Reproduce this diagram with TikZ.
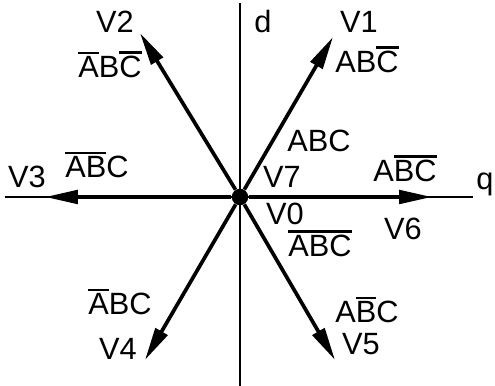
\documentclass[tikz,border=0pt]{standalone}
\usepackage{fontspec}
\setmainfont{Liberation Sans}
\usetikzlibrary{arrows.meta}
\newcommand{\ovl}[1]{\leavevmode\vbox{\hrule height 1.4pt\kern 1.6pt\hbox{#1}}}

\begin{document}
\begin{tikzpicture}[
    >={Triangle[length=0.66cm,width=0.27cm]},
    axis/.style={line width=1.2pt},
    vec/.style={->, line width=2.1pt},
    lbl/.style={inner sep=0pt, anchor=base, font=\fontsize{17.5}{20}\selectfont}
]
\useasboundingbox (-4.8,-3.78) rectangle (5.1,3.94);

% axes
\coordinate (qw) at (-4.7,0);
\coordinate (qe) at (4.66,0);
\coordinate (dn) at (0,3.88);
\coordinate (ds) at (0,-3.78);
\draw[axis] (qw) -- (qe);
\draw[axis] (ds) -- (dn);
\node[lbl] (q) at (4.9,0.14) {q};
\node[lbl] (d) at (0.46,3.28) {d};

% origin and vector tips
\node[circle, fill, inner sep=0pt, minimum size=0.33cm] (o) at (0,0) {};
\coordinate (v1) at (1.86,3.2);
\coordinate (v2) at (-2.0,3.28);
\coordinate (v3) at (-3.9,0);
\coordinate (v4) at (-1.9,-3.26);
\coordinate (v5) at (1.9,-3.26);
\coordinate (v6) at (3.84,0);
\foreach \v in {v1,v2,v3,v4,v5,v6} {
    \draw[vec] (o) -- (\v);
}

% labels
\node[lbl] (l1) at (2.38,3.28) {V1};
\node[lbl] (s1) at (2.54,2.48) {AB\ovl{C}};
\node[lbl] (l2) at (-2.5,3.28) {V2};
\node[lbl] (s2) at (-2.6,2.38) {\ovl{A}B\ovl{C}};
\node[lbl] (l3) at (-4.26,0.18) {V3};
\node[lbl] (s3) at (-2.86,0.38) {\ovl{AB}C};
\node[lbl] (l4) at (-2.44,-3.26) {V4};
\node[lbl] (s4) at (-2.4,-2.36) {\ovl{A}BC};
\node[lbl] (l5) at (2.42,-3.16) {V5};
\node[lbl] (s5) at (2.54,-2.52) {A\ovl{B}C};
\node[lbl] (l6) at (3.26,-0.86) {V6};
\node[lbl] (s6) at (3.3,0.3) {A\ovl{BC}};
\node[lbl] (l7) at (0.84,0.18) {V7};
\node[lbl] (s7) at (1.58,0.9) {ABC};
\node[lbl] (l0) at (0.9,-0.56) {V0};
\node[lbl] (s0) at (1.6,-1.2) {\ovl{ABC}};
\end{tikzpicture}
\end{document}
